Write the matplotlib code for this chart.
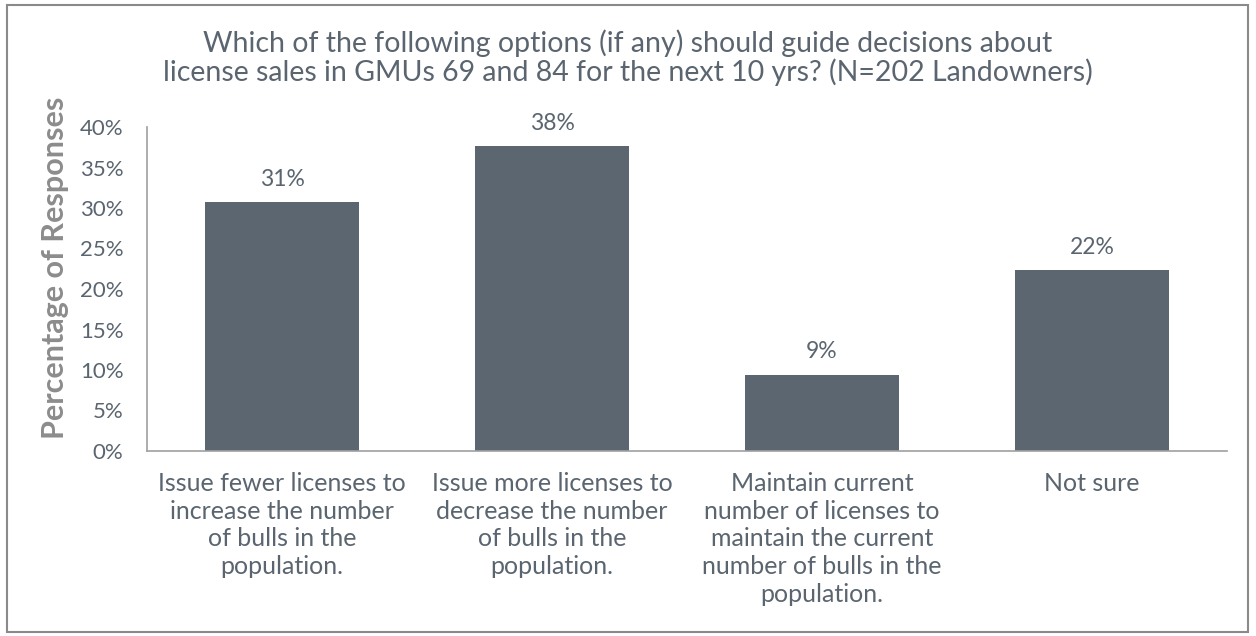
import matplotlib
matplotlib.use("Agg")
import matplotlib.pyplot as plt
from matplotlib.patches import Rectangle
from matplotlib.ticker import MultipleLocator, FuncFormatter

categories = [
    "Issue fewer licenses to\nincrease the number\nof bulls in the\npopulation.",
    "Issue more licenses to\ndecrease the number\nof bulls in the\npopulation.",
    "Maintain current\nnumber of licenses to\nmaintain the current\nnumber of bulls in the\npopulation.",
    "Not sure",
]
values = [30.7, 37.6, 9.4, 22.3]
value_labels = ["31%", "38%", "9%", "22%"]
title = ("Which of the following options (if any) should guide decisions about\n"
         "license sales in GMUs 69 and 84 for the next 10 yrs? (N=202 Landowners)")
ylabel = "Percentage of Responses"

plt.rcParams['font.family'] = ['Lato', 'DejaVu Sans']
text_color = "#5a6570"
bar_color = "#5c6670"
axis_color = "#a0a0a0"

fig = plt.figure(figsize=(12.56, 6.36), dpi=100)
W, H = 1256, 636
ax = fig.add_axes([147 / W, 1 - 451 / H, (1227 - 147) / W, (451 - 127) / H])

x = range(len(categories))
bars = ax.bar(x, values, width=0.57, color=bar_color, zorder=2)
for xi, v, lab in zip(x, values, value_labels):
    ax.annotate(lab, (xi, v), xytext=(0, 9), textcoords="offset points",
                ha="center", va="bottom", fontsize=16.5, color=text_color)

ax.set_xlim(-0.5, len(categories) - 0.5)
ax.set_ylim(0, 40)
ax.yaxis.set_major_locator(MultipleLocator(5))
ax.yaxis.set_major_formatter(FuncFormatter(lambda v, p: f"{v:.0f}%"))
ax.set_xticks(list(x))
ax.set_xticklabels(categories, fontsize=18, color=text_color, linespacing=1.25)
ax.tick_params(axis="y", labelsize=16, labelcolor=text_color, length=0, pad=17)
ax.tick_params(axis="x", length=0, pad=15)
for s in ["top", "right"]:
    ax.spines[s].set_visible(False)
for s in ["left", "bottom"]:
    ax.spines[s].set_color(axis_color)
    ax.spines[s].set_linewidth(1.2)

ax.set_ylabel(ylabel, fontsize=22, fontweight="bold", color="#8c8c8c")
ax.yaxis.set_label_coords(55 / W, 1 - 268 / H, transform=fig.transFigure)
ax.yaxis.label.set_va("center")
fig.text(0.5, 1 - 58 / H, title, ha="center", va="center", fontsize=20.5,
         color=text_color, linespacing=1.05)

fig.patches.append(Rectangle((7 / W, 1 - 632 / H), (1248 - 7) / W, (632 - 5) / H,
                             transform=fig.transFigure, fill=False,
                             edgecolor="#8a8a8a", linewidth=1.5))

fig.savefig("out.png", dpi=100)
